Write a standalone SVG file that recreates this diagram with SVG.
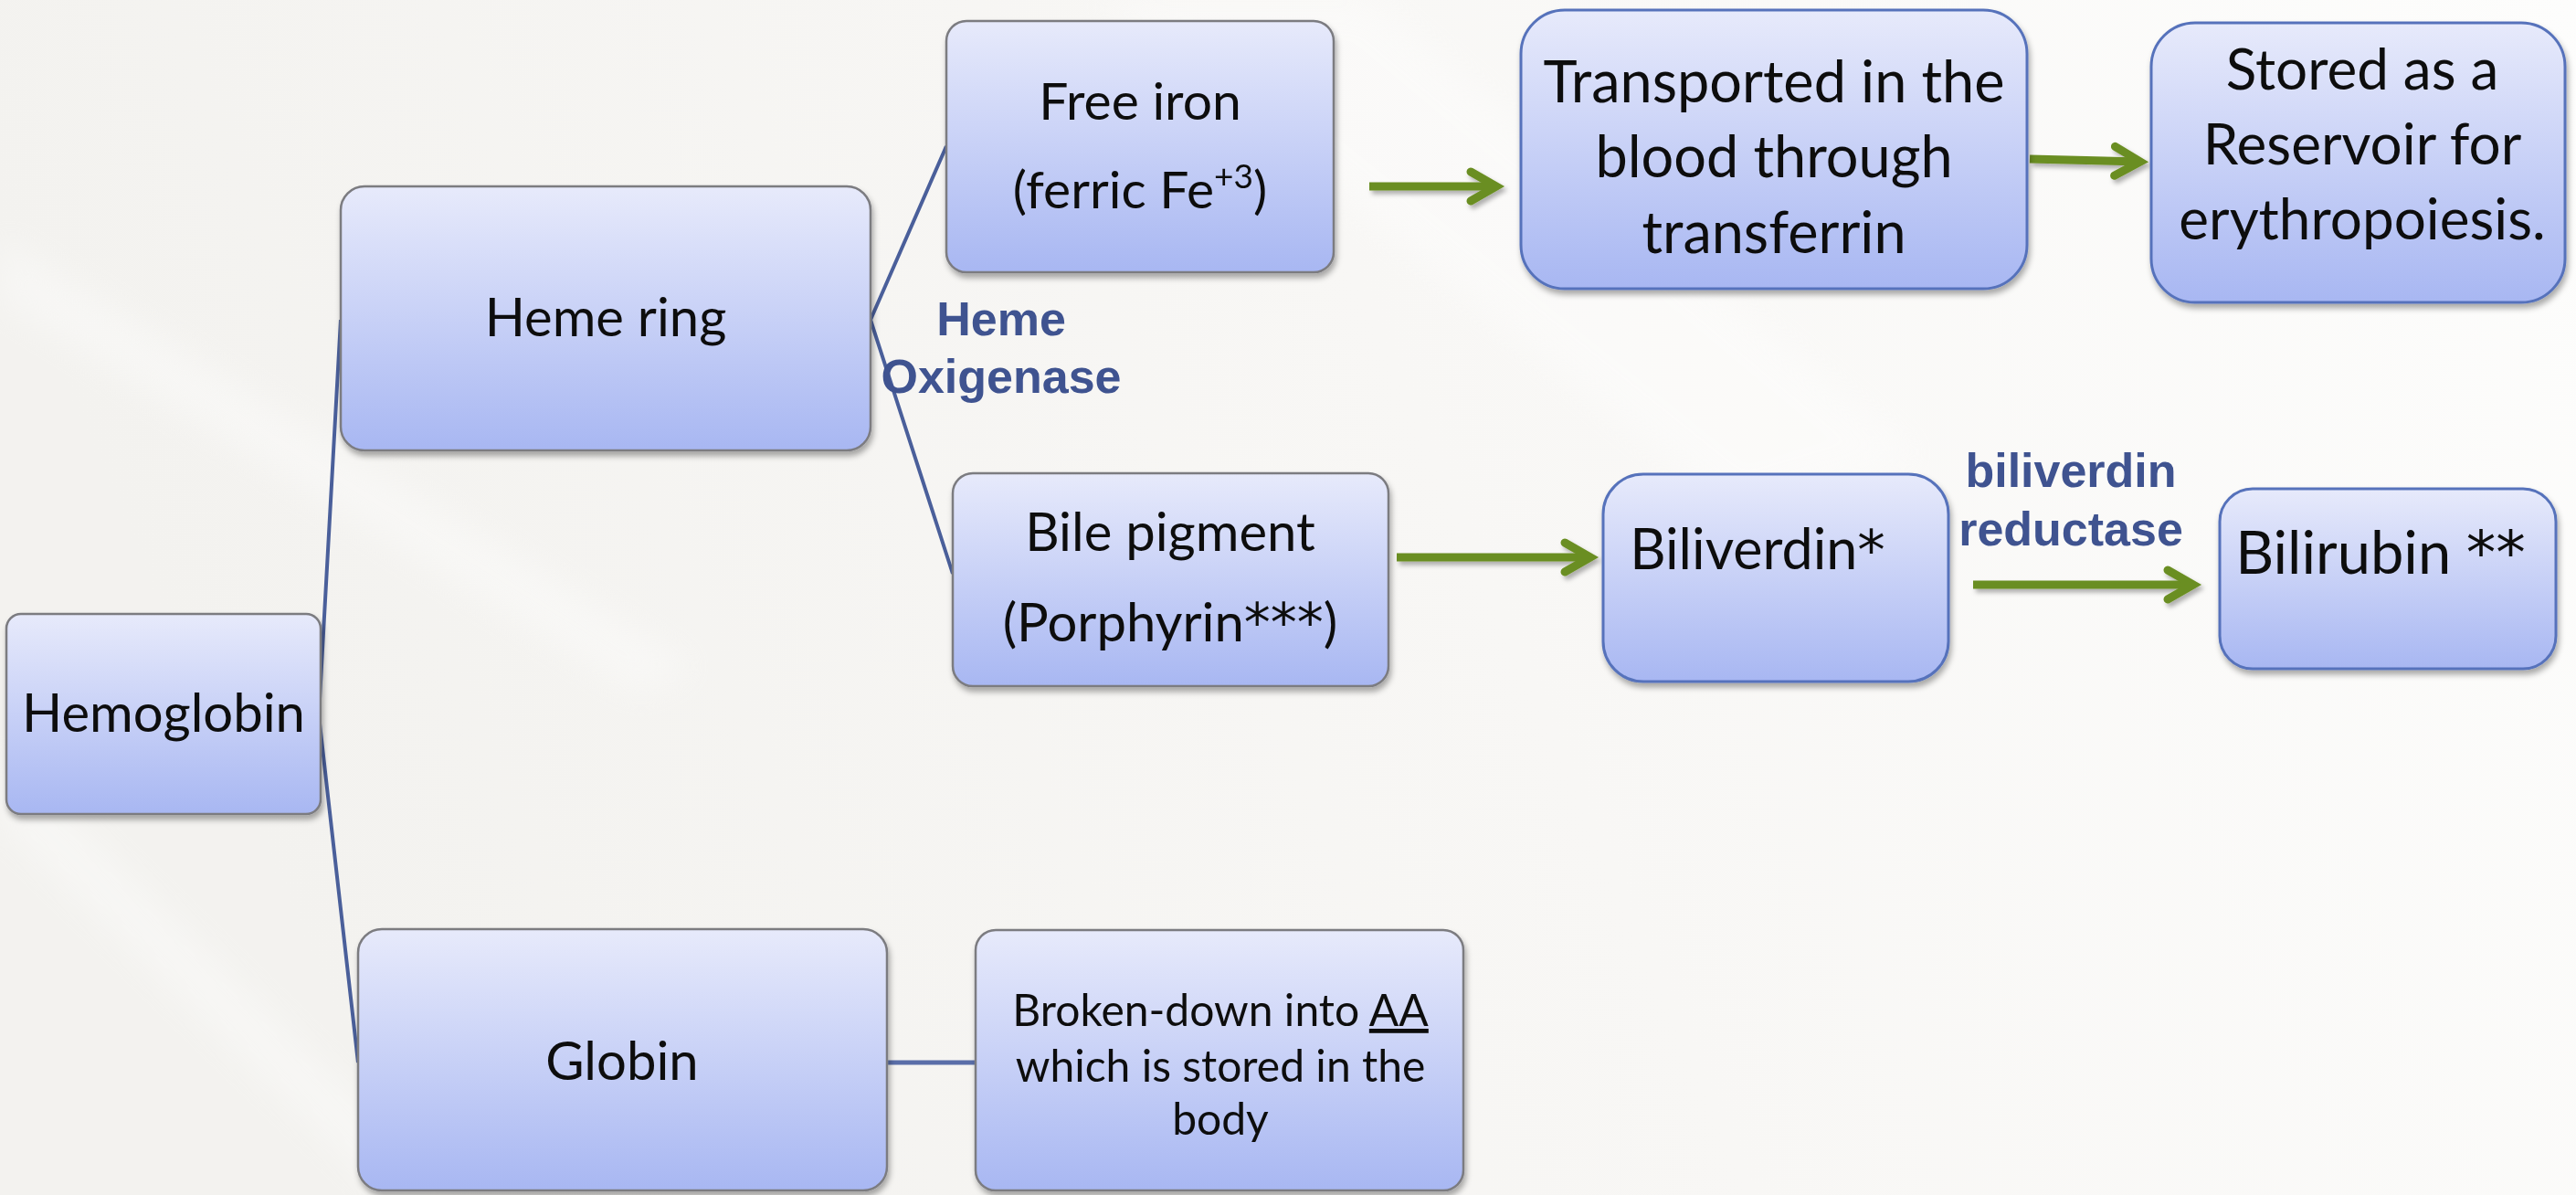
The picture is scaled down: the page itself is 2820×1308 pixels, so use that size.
<svg xmlns="http://www.w3.org/2000/svg" width="2820" height="1308" viewBox="0 0 2820 1308">
<defs>
<linearGradient id="boxfill" x1="0" y1="0" x2="0" y2="1">
<stop offset="0" stop-color="#e7eafb"/>
<stop offset="1" stop-color="#a8b7f2"/>
</linearGradient>
<linearGradient id="bg" x1="0" y1="0.2" x2="1" y2="0">
<stop offset="0" stop-color="#f3f2ef"/>
<stop offset="0.5" stop-color="#f8f7f5"/>
<stop offset="1" stop-color="#fdfdfc"/>
</linearGradient>
<filter id="shadow" x="-5%" y="-5%" width="110%" height="115%">
<feDropShadow dx="2" dy="5" stdDeviation="3" flood-color="#000" flood-opacity="0.33"/>
</filter>
<filter id="ashadow" x="-10%" y="-50%" width="120%" height="200%">
<feDropShadow dx="3" dy="4" stdDeviation="2.5" flood-color="#000" flood-opacity="0.3"/>
</filter>
<filter id="blur" x="-10%" y="-10%" width="120%" height="120%">
<feGaussianBlur stdDeviation="18"/>
</filter>
<marker id="chev" markerUnits="userSpaceOnUse" markerWidth="60" markerHeight="60" refX="0" refY="0" orient="auto" overflow="visible">
<path d="M-28,-16 L0,0 L-28,16" fill="none" stroke="#6b8e23" stroke-width="9" stroke-linecap="round" stroke-linejoin="miter"/>
</marker>
</defs>
<style>
.box{fill:url(#boxfill);stroke:#7b7b80;stroke-width:2.5}
.boxb{fill:url(#boxfill);stroke:#5672bb;stroke-width:3}
.t{font-family:Lato,"Open Sans",sans-serif;fill:#111;text-anchor:middle}
.ast{font-family:"DejaVu Sans",sans-serif}
.lbl{font-family:"Liberation Sans",Arial,sans-serif;font-weight:bold;font-size:52px;fill:#3f5390;text-anchor:middle}
.conn{stroke:#4a5f9a;stroke-width:4;fill:none;stroke-linejoin:miter}
.arrow{stroke:#6b8e23;stroke-width:9;fill:none;marker-end:url(#chev)}
</style>
<rect x="0" y="0" width="2820" height="1308" fill="url(#bg)"/>
<g opacity="0.35" fill="#ffffff" filter="url(#blur)">
<polygon points="0,260 0,330 700,760 760,730"/>
<polygon points="0,820 0,900 420,1308 500,1308"/>
<polygon points="1200,0 1500,0 2100,500 1900,560"/>
</g>

<g id="connectors">
<polyline class="conn" points="373,350 349,783 392,1163"/>
<polyline class="conn" points="1036,160 953,350 1043,628"/>
<line class="conn" x1="971" y1="1163" x2="1068" y2="1163" style="stroke-width:5;stroke:#5a6ea8"/>
<g filter="url(#ashadow)">
<line class="arrow" x1="1499" y1="204" x2="1638" y2="204"/>
<line class="arrow" x1="2222" y1="174" x2="2343" y2="177"/>
<line class="arrow" x1="1529" y1="610" x2="1741" y2="610"/>
<line class="arrow" x1="2160" y1="640" x2="2401" y2="640"/>
</g>
</g>

<g id="hemoglobin" filter="url(#shadow)">
<rect class="box" x="7" y="672" width="344" height="219" rx="16"/>
<text class="t" x="179" y="801" font-size="58">Hemoglobin</text>
</g>
<g id="heme-ring" filter="url(#shadow)">
<rect class="box" x="373" y="204" width="580" height="289" rx="26"/>
<text class="t" x="663" y="368" font-size="58">Heme ring</text>
</g>
<g id="globin" filter="url(#shadow)">
<rect class="box" x="392" y="1017" width="579" height="286" rx="26"/>
<text class="t" x="681" y="1182" font-size="58">Globin</text>
</g>
<g id="free-iron" filter="url(#shadow)">
<rect class="box" x="1036" y="23" width="424" height="275" rx="22"/>
<text class="t" x="1248" y="131" font-size="57">Free iron</text>
<text class="t" x="1248" y="228" font-size="57">(ferric Fe<tspan font-size="37" dy="-22">+3</tspan><tspan dy="22">)</tspan></text>
</g>
<g id="bile-pigment" filter="url(#shadow)">
<rect class="box" x="1043" y="518" width="477" height="233" rx="22"/>
<text class="t" x="1281" y="603" font-size="58">Bile pigment</text>
<text class="t" x="1281" y="702" font-size="58">(Porphyrin<tspan class="ast">***</tspan>)</text>
</g>
<g id="transported" filter="url(#shadow)">
<rect class="boxb" x="1665" y="11" width="554" height="305" rx="48"/>
<text class="t" x="1942" y="112" font-size="63">Transported in the</text>
<text class="t" x="1942" y="194" font-size="63">blood through</text>
<text class="t" x="1942" y="277" font-size="63">transferrin</text>
</g>
<g id="stored" filter="url(#shadow)">
<rect class="boxb" x="2355" y="25" width="453" height="306" rx="48"/>
<text class="t" x="2586" y="98" font-size="62">Stored as a</text>
<text class="t" x="2586" y="180" font-size="62">Reservoir for</text>
<text class="t" x="2586" y="262" font-size="62">erythropoiesis.</text>
</g>
<g id="biliverdin" filter="url(#shadow)">
<rect class="boxb" x="1755" y="519" width="378" height="227" rx="44"/>
<text class="t" x="1924" y="623" font-size="61">Biliverdin<tspan class="ast">*</tspan></text>
</g>
<g id="bilirubin" filter="url(#shadow)">
<rect class="boxb" x="2430" y="535" width="368" height="197" rx="36"/>
<text class="t" x="2606" y="628" font-size="65">Bilirubin <tspan class="ast">**</tspan></text>
</g>
<g id="broken-down" filter="url(#shadow)">
<rect class="box" x="1068" y="1018" width="534" height="285" rx="22"/>
<text class="t" x="1336" y="1123" font-size="48">Broken-down into <tspan text-decoration="underline">AA</tspan></text>
<text class="t" x="1336" y="1184" font-size="48">which is stored in the</text>
<text class="t" x="1336" y="1242" font-size="48">body</text>
</g>

<g id="labels">
<text class="lbl" x="1096" y="367">Heme</text>
<text class="lbl" x="1096" y="430">Oxigenase</text>
<text class="lbl" x="2267" y="533">biliverdin</text>
<text class="lbl" x="2267" y="597">reductase</text>
</g>
</svg>
